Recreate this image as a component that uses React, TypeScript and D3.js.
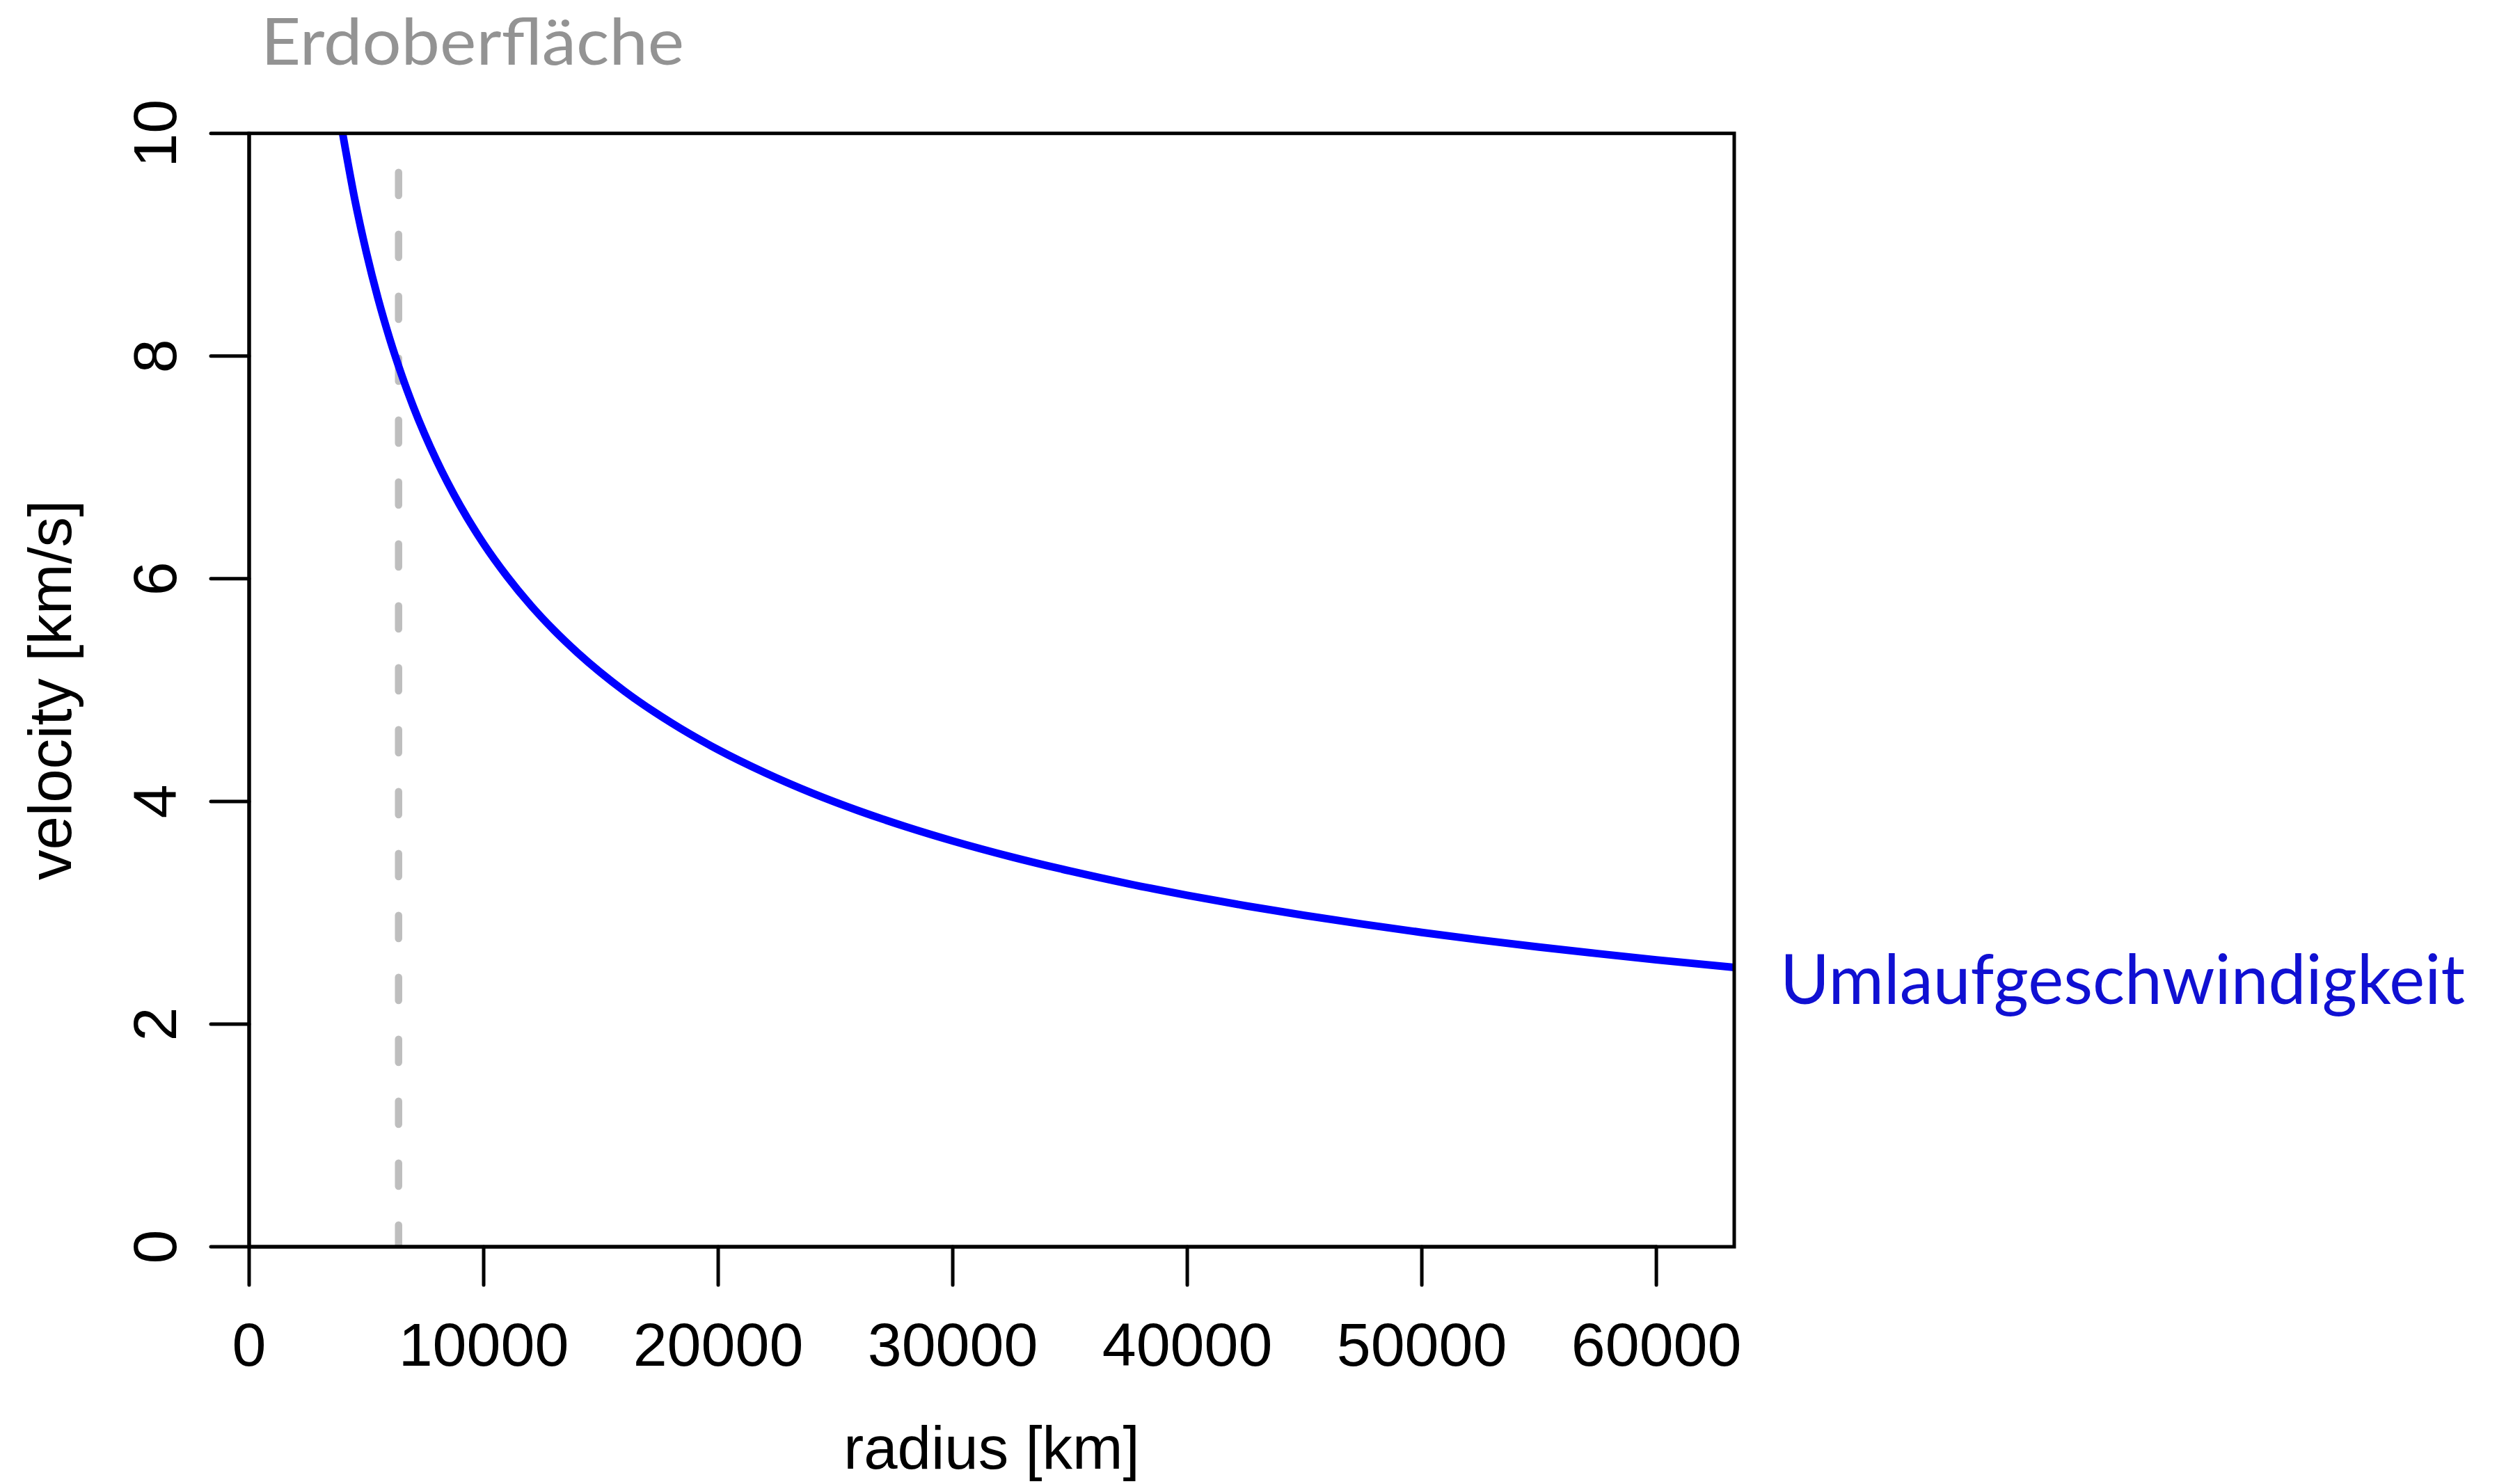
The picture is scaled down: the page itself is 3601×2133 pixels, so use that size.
import * as d3 from "d3";

// values
const radiusKm = [
  3990, 4500, 5000, 5500, 6000, 6500, 7000, 8000, 9000, 10000, 11000, 12000, 13000, 14000, 16000, 18000,
  20000, 22000, 24000, 26000, 28000, 30000, 32500, 35000, 37500, 40000, 42500, 45000, 47500, 50000, 52500,
  55000, 57500, 60000, 63320,
];
const velocityKms = [
  9.995, 9.412, 8.929, 8.513, 8.151, 7.831, 7.546, 7.059, 6.655, 6.313, 6.02, 5.763, 5.537, 5.336, 4.991, 4.706,
  4.464, 4.257, 4.075, 3.915, 3.773, 3.645, 3.502, 3.375, 3.26, 3.157, 3.062, 2.976, 2.897, 2.823, 2.755,
  2.692, 2.633, 2.577, 2.509,
];
const xTicks = [0, 10000, 20000, 30000, 40000, 50000, 60000];
const yTicks = [0, 2, 4, 6, 8, 10];
const earthRadiusKm = 6371;
const earthLineTop = 9.65;
const xMax = 63320;

const W = 3601;
const H = 2133;
const margin = { left: 358, right: W - 2492, top: 191.7, bottom: H - 1792 };

const App = () => {
  const x = d3.scaleLinear().domain([0, xMax]).range([margin.left, W - margin.right]);
  const y = d3.scaleLinear().domain([0, 10]).range([H - margin.bottom, margin.top]);

  const pts = radiusKm.map((r, i) => [r, velocityKms[i]] as [number, number]);
  const line = d3
    .line<[number, number]>()
    .x((d) => x(d[0]))
    .y((d) => y(d[1]))
    .curve(d3.curveMonotoneX);

  const x0 = x(0);
  const x1 = x(xMax);
  const y0 = y(0);
  const y1 = y(10);
  const tickLen = 55;
  const axisFont = "'Liberation Sans', Arial, Helvetica, sans-serif";
  const labelFont = "Lato, 'Open Sans', sans-serif";

  return (
    <svg
      width={W}
      height={H}
      style={{ position: "absolute", left: 0, top: 0, background: "#fff" }}
    >
      <defs>
        <clipPath id="plot-clip">
          <rect x={x0} y={y1} width={x1 - x0} height={y0 - y1} />
        </clipPath>
      </defs>

      {/* earth surface marker */}
      <line
        x1={x(earthRadiusKm)}
        x2={x(earthRadiusKm)}
        y1={y(earthLineTop)}
        y2={y(-0.3)}
        stroke="#BEBEBE"
        strokeWidth={10.5}
        strokeDasharray="33.3 55.7"
        strokeLinecap="round"
        clipPath="url(#plot-clip)"
      />

      {/* orbital velocity curve */}
      <path
        d={line(pts) || ""}
        fill="none"
        stroke="#0000FF"
        strokeWidth={11}
        strokeLinejoin="round"
        clipPath="url(#plot-clip)"
      />

      {/* box */}
      <rect x={x0} y={y1} width={x1 - x0} height={y0 - y1} fill="none" stroke="#000" strokeWidth={5} />

      {/* x axis */}
      <g stroke="#000" strokeWidth={5} strokeLinecap="round">
        <line x1={x(xTicks[0])} x2={x(xTicks[xTicks.length - 1])} y1={y0} y2={y0} />
        {xTicks.map((t) => (
          <line key={t} x1={x(t)} x2={x(t)} y1={y0} y2={y0 + tickLen} />
        ))}
      </g>
      {xTicks.map((t) => (
        <text key={t} x={x(t)} y={1963} textAnchor="middle" fontFamily={axisFont} fontSize={88} fill="#000">
          {t}
        </text>
      ))}

      {/* y axis */}
      <g stroke="#000" strokeWidth={5} strokeLinecap="round">
        <line x1={x0} x2={x0} y1={y(yTicks[0])} y2={y(yTicks[yTicks.length - 1])} />
        {yTicks.map((t) => (
          <line key={t} x1={x0 - tickLen} x2={x0} y1={y(t)} y2={y(t)} />
        ))}
      </g>
      {yTicks.map((t) => (
        <text
          key={t}
          transform={`translate(253,${y(t)}) rotate(-90)`}
          textAnchor="middle"
          fontFamily={axisFont}
          fontSize={88}
          fill="#000"
        >
          {t}
        </text>
      ))}

      {/* axis titles */}
      <text x={(x0 + x1) / 2} y={2111} textAnchor="middle" fontFamily={axisFont} fontSize={87} fill="#000">
        radius [km]
      </text>
      <text
        transform={`translate(102,${(y0 + y1) / 2}) rotate(-90)`}
        textAnchor="middle"
        fontFamily={axisFont}
        fontSize={87}
        fill="#000"
      >
        velocity [km/s]
      </text>

      {/* annotations */}
      <text
        x={375}
        y={93}
        fontFamily={labelFont}
        fontSize={94}
        fill="#939393"
        textLength={608}
        lengthAdjust="spacingAndGlyphs"
      >
        Erdoberfläche
      </text>
      <text
        x={2558}
        y={1443}
        fontFamily={labelFont}
        fontSize={99}
        fill="#1010D2"
        textLength={984}
        lengthAdjust="spacingAndGlyphs"
      >
        Umlaufgeschwindigkeit
      </text>
    </svg>
  );
};

export default App;
